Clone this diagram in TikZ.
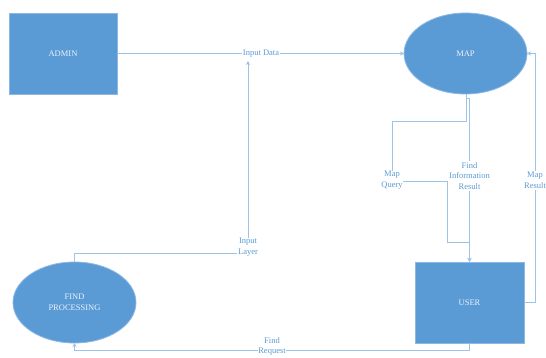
\documentclass[tikz,border=0pt]{standalone}
\usepackage{fontspec}
\setmainfont{Liberation Serif}
\usetikzlibrary{shapes.geometric,arrows.meta}
\definecolor{boxfill}{HTML}{5B9BD5}
\definecolor{boxline}{HTML}{8DB8E4}
\definecolor{wire}{HTML}{9DC3E6}
\definecolor{labtext}{HTML}{5B9BD5}
\definecolor{intext}{HTML}{EAF1FB}
\tikzset{
  entity/.style={rectangle,fill=boxfill,draw=boxline,line width=0.8pt,inner sep=0pt,outer sep=0pt,text=intext,align=center,font=\fontsize{8.5}{10.8}\selectfont},
  process/.style={ellipse,fill=boxfill,draw=boxline,line width=0.8pt,inner sep=0pt,outer sep=0pt,text=intext,align=center,font=\fontsize{8.5}{10.8}\selectfont},
  wireline/.style={draw=wire,line width=1pt},
  arr/.style={-{Stealth[length=4pt,width=4pt]}},
  flowlabel/.style={fill=white,inner sep=0.8pt,text=labtext,align=center,font=\fontsize{8.5}{10.8}\selectfont}
}
\begin{document}
\begin{tikzpicture}[x=1pt,y=-1pt]
\useasboundingbox (0,0) rectangle (546,358);
\clip (0,0) rectangle (546,358);
\fill[white] (0,0) rectangle (546,358);
% nodes
\node[entity,minimum width=108pt,minimum height=81pt] (admin) at (63,53.5) {ADMIN};
\node[process,minimum width=123pt,minimum height=81pt] (map) at (465.5,53.5) {MAP};
\node[entity,minimum width=109pt,minimum height=81pt] (user) at (469.5,302.5) {USER};
\node[process,minimum width=123pt,minimum height=81pt] (find) at (74.5,302.5) {FIND\\PROCESSING};
% helper coordinates
\coordinate (inArrow) at (248,61);
\coordinate (mapBotA) at (466,94);
\coordinate (userTop) at (469.5,262);
% Input Data
\draw[wireline,arr] (admin.east) -- (map.west);
\node[flowlabel] (lInputData) at (261,53.5) {Input Data};
% Input Layer
\draw[wireline,arr] (find.north) -- (74.5,253) -- (248,253) -- (inArrow);
\node[flowlabel] (lInputLayer) at (248,247.5) {Input\\Layer};
% Map Query
\draw[wireline,arr] (mapBotA) -- (466,122) -- (392,122) -- (392,182) -- (447,182) -- (447,242) -- (469.5,242) -- (userTop);
\node[flowlabel] (lMapQuery) at (392,180.5) {Map\\Query};
% Find Information Result
\draw[wireline,arr] (mapBotA) -- (466,99) -- (469.5,99) -- (userTop);
\node[flowlabel] (lFindInfo) at (469.5,176) {Find\\Information\\Result};
% Map Result
\draw[wireline,arr] (user.east) -- (535,302.5) -- (535,53.5) -- (map.east);
\node[flowlabel] (lMapResult) at (535,180.5) {Map\\Result};
% Find Request
\draw[wireline,arr] (user.south) -- (469.5,350) -- (74.5,350) -- (find.south);
\node[flowlabel,inner sep=0.3pt] (lFindRequest) at (272,346.5) {Find\\Request};
\end{tikzpicture}
\end{document}
